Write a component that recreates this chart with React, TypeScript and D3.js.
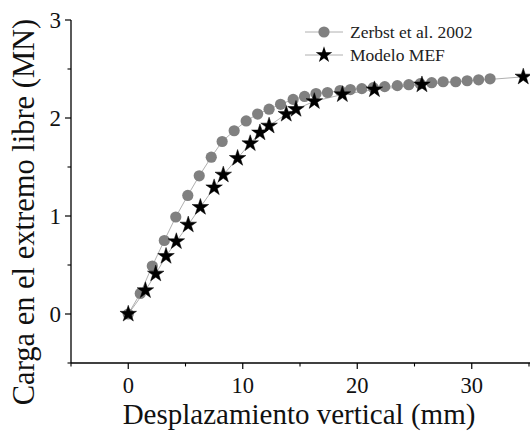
import React from "react";
import * as d3 from "d3";

const zerbstX = [0, 1.05, 2.1, 3.15, 4.15, 5.2, 6.2, 7.25, 8.2, 9.25, 10.3, 11.3, 12.3, 13.3, 14.4, 15.4, 16.4, 17.4, 18.5, 19.4, 20.4, 21.4, 22.4, 23.5, 24.5, 25.5, 26.5, 27.5, 28.6, 29.6, 30.6, 31.6];
const zerbstY = [0, 0.21, 0.49, 0.75, 0.99, 1.21, 1.41, 1.6, 1.76, 1.87, 1.97, 2.04, 2.09, 2.14, 2.19, 2.22, 2.25, 2.26, 2.28, 2.29, 2.3, 2.31, 2.32, 2.33, 2.34, 2.35, 2.36, 2.37, 2.37, 2.38, 2.39, 2.4];
const mefX = [0, 1.5, 2.4, 3.3, 4.2, 5.24, 6.3, 7.5, 8.3, 9.55, 10.65, 11.5, 12.3, 13.8, 14.65, 16.25, 18.7, 21.5, 25.65, 34.5];
const mefY = [0, 0.24, 0.41, 0.59, 0.74, 0.91, 1.09, 1.29, 1.42, 1.59, 1.74, 1.85, 1.92, 2.04, 2.09, 2.17, 2.24, 2.29, 2.34, 2.42];
const xTicks = [0, 10, 20, 30];
const xMinor = [-5, 5, 15, 25, 35];
const yTicks = [0, 1, 2, 3];
const yMinor = [-0.5, 0.5, 1.5, 2.5];
const seriesNames = ["Zerbst et al. 2002", "Modelo MEF"];

const W = 530, H = 432;
const L = 71, R = 529, T = 20, B = 363;
const FONT = "'Liberation Serif', 'Times New Roman', serif";

export default function App() {
  const x = d3.scaleLinear().domain([-5, 35]).range([L, R]);
  const y = d3.scaleLinear().domain([-0.5, 3]).range([B, T]);
  const zData = zerbstX.map((v, i) => [v, zerbstY[i]] as [number, number]);
  const mData = mefX.map((v, i) => [v, mefY[i]] as [number, number]);
  const line = d3.line<[number, number]>().x(d => x(d[0])).y(d => y(d[1]));
  const star = d3.symbol().type(d3.symbolStar).size(85)() as string;

  return (
    <svg width={W} height={H} style={{ position: "absolute", left: 0, top: 0, background: "#fff" }} fontFamily={FONT}>
      <rect x={0} y={0} width={W} height={H} fill="#fff" />
      {/* axes */}
      <line x1={L} y1={T} x2={L} y2={B} stroke="#000" strokeWidth={1.3} />
      <line x1={L} y1={B} x2={W} y2={B} stroke="#000" strokeWidth={1.3} />
      {xTicks.map(t => (
        <g key={"xt" + t}>
          <line x1={x(t)} x2={x(t)} y1={B} y2={B + 6} stroke="#000" strokeWidth={1.2} />
          <text x={x(t)} y={B + 30} fontSize={22.5} textAnchor="middle" fill="#111">{t}</text>
        </g>
      ))}
      {xMinor.map(t => (
        <line key={"xm" + t} x1={x(t)} x2={x(t)} y1={B} y2={B + 3.5} stroke="#000" strokeWidth={1.1} />
      ))}
      {yTicks.map(t => (
        <g key={"yt" + t}>
          <line x1={L - 6} x2={L} y1={y(t)} y2={y(t)} stroke="#000" strokeWidth={1.2} />
          <text x={L - 10} y={y(t) + 8} fontSize={23} textAnchor="end" fill="#111">{t}</text>
        </g>
      ))}
      {yMinor.map(t => (
        <line key={"ym" + t} x1={L - 3.5} x2={L} y1={y(t)} y2={y(t)} stroke="#000" strokeWidth={1.1} />
      ))}
      {/* lines */}
      <path d={line(zData) || ""} fill="none" stroke="#b0b0b0" strokeWidth={1} />
      <path d={line(mData) || ""} fill="none" stroke="#b0b0b0" strokeWidth={1} />
      {/* markers */}
      {zData.map((d, i) => (
        <circle key={"c" + i} cx={x(d[0])} cy={y(d[1])} r={5.6} fill="#808080" />
      ))}
      {mData.map((d, i) => (
        <path key={"s" + i} d={star} transform={`translate(${x(d[0])},${y(d[1])})`} fill="#000" stroke="#000" strokeWidth={0.5} />
      ))}
      {/* legend */}
      <line x1={305} x2={343} y1={32} y2={32} stroke="#b0b0b0" strokeWidth={1} />
      <circle cx={324} cy={32} r={5.6} fill="#808080" />
      <text x={350} y={37.5} fontSize={17.5} fill="#222">{seriesNames[0]}</text>
      <line x1={305} x2={343} y1={55} y2={55} stroke="#b0b0b0" strokeWidth={1} />
      <path d={star} transform="translate(324,55)" fill="#000" />
      <text x={350} y={60.5} fontSize={17.5} fill="#222">{seriesNames[1]}</text>
      {/* titles */}
      <text x={(118 + 480) / 2} y={424} fontSize={29} textAnchor="middle" fill="#111">Desplazamiento vertical (mm)</text>
      <text transform={`translate(34, ${(6 + 418) / 2}) rotate(-90)`} fontSize={30.5} textAnchor="middle" fill="#111">Carga en el extremo libre (MN)</text>
    </svg>
  );
}
